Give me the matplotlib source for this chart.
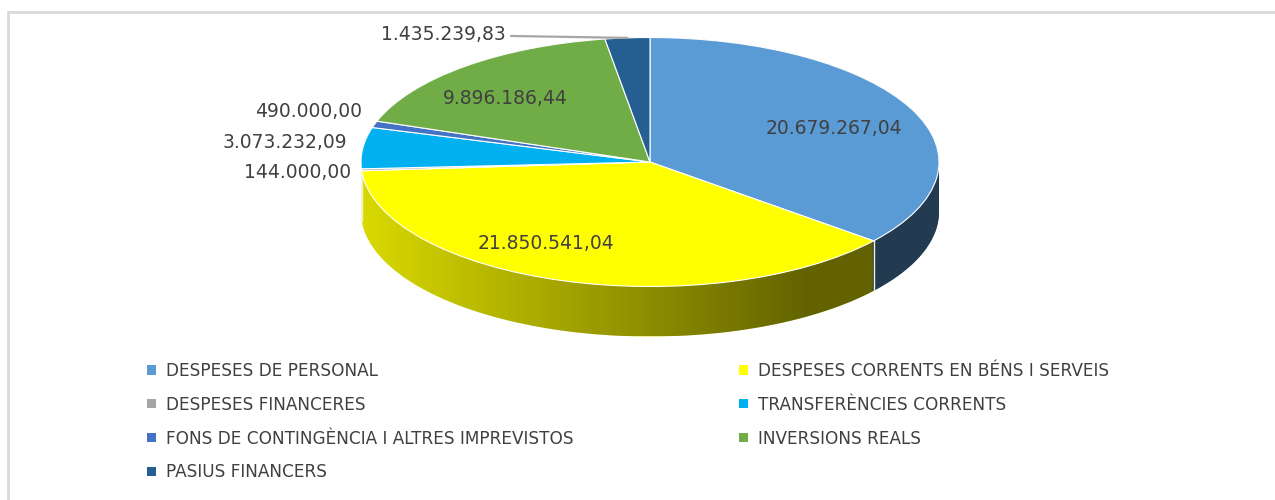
import matplotlib
matplotlib.use("Agg")
import matplotlib.pyplot as plt
import numpy as np
from matplotlib.patches import Patch, PathPatch, Rectangle
from matplotlib.path import Path
from matplotlib.colors import to_rgb

plt.rcParams['font.family'] = ['DejaVu Sans']

# budget chapters, clockwise from 12 o'clock
categories = [
    "DESPESES DE PERSONAL",
    "DESPESES CORRENTS EN BÉNS I SERVEIS",
    "DESPESES FINANCERES",
    "TRANSFERÈNCIES CORRENTS",
    "FONS DE CONTINGÈNCIA I ALTRES IMPREVISTOS",
    "INVERSIONS REALS",
    "PASIUS FINANCERS",
]
values = [20679267.04, 21850541.04, 144000.00, 3073232.09, 490000.00, 9896186.44, 1435239.83]
colors = ["#5b9bd5", "#ffff00", "#a5a5a5", "#00b0f0", "#4472c4", "#70ad47", "#255e91"]

inside = [0, 1, 5]
# label nudges in pixels (inside: from 0.68 radius, outside: from slice edge)
label_offsets = {0: (6, -3), 1: (-44, -1), 5: (-19, -1),
                 2: (-10, -3), 3: (-16, 5), 4: (-12, 13), 6: (-122, 3)}


def fmt(v):
    # 1,234,567.89 -> 1.234.567,89
    return f"{v:,.2f}".replace(",", "X").replace(".", ",").replace("X", ".")


W, H = 1275, 500
cx, cy = 650, 162          # pie centre in pixels (from top)
rx, ry = 289, 124.5        # ellipse radii in pixels
depth = 50 / ry            # thickness of the 3D side, data units

fig = plt.figure(figsize=(W / 100, H / 100), dpi=100)
ax = fig.add_axes([0, 0, 1, 1])

# side of the "3D" pie: stack of darker pies shifted downwards
side_colors = [tuple(c * 0.85 for c in to_rgb(col)) for col in colors]
for d in np.linspace(depth, 0, 50):
    wedges, _ = ax.pie(values, colors=side_colors, startangle=90, counterclock=False,
                       center=(0, -d), radius=1, frame=True,
                       wedgeprops=dict(linewidth=0, antialiased=True))
    for w in wedges:
        w.set_zorder(1)

# shading gradient on the side, left bright -> right dark
t = np.linspace(np.pi, 2 * np.pi, 200)
verts = np.concatenate([np.c_[np.cos(t), np.sin(t)],
                        np.c_[np.cos(t[::-1]), np.sin(t[::-1]) - depth]])
side_path = PathPatch(Path(verts, closed=True), facecolor='none', edgecolor='none',
                      transform=ax.transData)
ax.add_patch(side_path)
xs = np.linspace(-1, 1, 300)
alpha = 0.55 * np.clip((xs + 1) / 1.55, 0, 1)
grad = np.zeros((2, len(xs), 4))
grad[..., 3] = alpha
im = ax.imshow(grad, extent=[-1, 1, -1 - depth, 0], aspect='auto', zorder=1.5,
               interpolation='bilinear')
im.set_clip_path(side_path)

# slice boundaries on the visible side
fracs = np.array(values) / sum(values)
starts = np.concatenate([[0], np.cumsum(fracs)[:-1]])
for s in starts:
    ang = np.deg2rad(90 - 360 * s)
    if np.sin(ang) < -0.01:
        ax.plot([np.cos(ang)] * 2, [np.sin(ang), np.sin(ang) - depth],
                color='#f2f2d0', lw=1, zorder=1.6)

# top face
wedges, _ = ax.pie(values, colors=colors, startangle=90, counterclock=False,
                   radius=1, frame=True,
                   wedgeprops=dict(edgecolor='white', linewidth=0.8))
for w in wedges:
    w.set_zorder(2)

ax.set_aspect('auto')
ax.set_xlim(-cx / rx, (W - cx) / rx)
ax.set_ylim(-(H - cy) / ry, cy / ry)
ax.axis('off')

# data labels
for i, v in enumerate(values):
    ang = np.deg2rad(90 - 360 * (starts[i] + fracs[i] / 2))
    dx, dy = label_offsets[i]
    if i in inside:
        ax.annotate(fmt(v), xy=(0.68 * np.cos(ang), 0.68 * np.sin(ang)), xytext=(dx, dy),
                    textcoords='offset pixels', ha='center', va='center',
                    fontsize=13.5, color='#404040', zorder=3)
    else:
        arrow = dict(arrowstyle='-', color='#a6a6a6', lw=1.6, shrinkA=2, shrinkB=0) if i == 6 else None
        ax.annotate(fmt(v), xy=(np.cos(ang), np.sin(ang)), xytext=(dx, dy),
                    textcoords='offset pixels', ha='right', va='center',
                    fontsize=13.5, color='#404040', zorder=3, arrowprops=arrow)

# chart frame (light grey, runs off the right and bottom)
fig.patches.append(Rectangle((8 / W, -0.1), 1.2, (H - 12) / H + 0.1, transform=fig.transFigure,
                             facecolor='none', edgecolor='#d9d9d9', lw=2))

# legend in two columns, row-major order like the original
handles = [Patch(facecolor=c) for c in colors]
left_idx = [0, 2, 4, 6]
right_idx = [1, 3, 5]
legend_kw = dict(loc='upper left', frameon=False, fontsize=12.2, labelcolor='#404040',
                 handlelength=0.55, handleheight=0.45, handletextpad=0.6,
                 labelspacing=0.93, borderpad=0, borderaxespad=0)
fig.legend([handles[i] for i in left_idx], [categories[i] for i in left_idx],
           bbox_to_anchor=(147 / W, 1 - 362 / H), **legend_kw)
fig.legend([handles[i] for i in right_idx], [categories[i] for i in right_idx],
           bbox_to_anchor=(739 / W, 1 - 362 / H), **legend_kw)

fig.savefig("out.png", dpi=100, facecolor='white')
